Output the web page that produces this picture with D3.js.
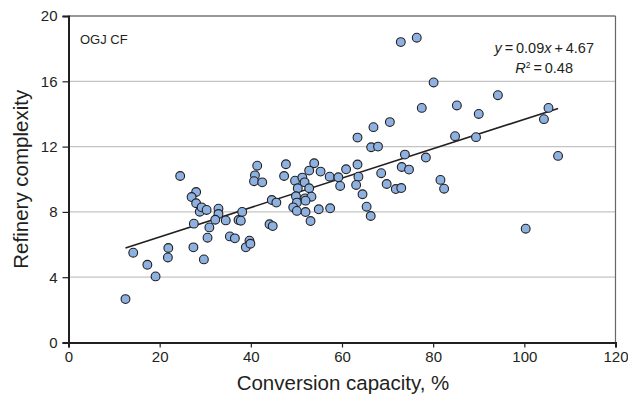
<!DOCTYPE html>
<html><head><meta charset="utf-8">
<script src="https://cdn.jsdelivr.net/npm/d3@7"></script>
<style>body{margin:0;background:#fff}svg{display:block}text{font-family:"Liberation Sans",Arial,sans-serif;fill:#231f20}</style>
</head><body><svg id="c" width="628" height="397"></svg>
<script>
const conversion = [12.5,14.2,17.3,19.1,21.9,21.8,24.5,28.0,27.0,28.0,28.8,29.2,30.3,27.5,30.9,32.9,32.9,32.2,34.5,30.5,27.4,29.7,35.4,36.5,39.7,38.9,37.3,38.1,37.8,44.1,44.8,41.4,40.9,40.7,42.5,44.6,45.6,63.4,66.9,66.4,67.9,47.7,47.3,53.9,52.8,55.3,49.7,51.3,51.8,50.3,52.8,57.3,59.2,59.6,60.9,63.4,63.6,63.1,64.5,65.4,66.3,68.6,69.8,71.8,73.0,49.9,51.9,53.3,50.1,52.0,49.3,50.1,52.0,53.1,54.9,57.4,81.6,82.4,77.5,85.2,90.0,70.5,84.8,89.4,73.8,78.4,73.1,74.7,94.2,105.3,104.3,107.4,72.9,76.4,80.1,100.3,39.9];
const complexity = [2.66,5.5,4.76,4.05,5.79,5.21,10.2,9.22,8.91,8.53,8.01,8.28,8.12,7.28,7.05,8.2,7.87,7.52,7.48,6.42,5.83,5.09,6.5,6.38,6.24,5.83,7.5,8.0,7.46,7.24,7.13,10.83,10.24,9.88,9.81,8.73,8.57,12.55,13.19,11.96,12.0,10.92,10.2,10.98,10.53,10.47,9.91,10.1,9.81,9.45,9.45,10.16,10.12,9.59,10.61,10.9,10.16,9.65,9.08,8.32,7.75,10.37,9.71,9.4,9.46,8.96,8.83,8.93,8.57,8.69,8.28,8.06,7.99,7.44,8.16,8.22,9.96,9.42,14.37,14.52,14.0,13.5,12.64,12.58,11.51,11.33,10.75,10.59,15.15,14.37,13.68,11.43,18.4,18.67,15.93,6.97,6.05];
const xTicks = [0,20,40,60,80,100,120];
const yTicks = [0,4,8,12,16,20];
const slope = 0.09, intercept = 4.67, r2 = 0.48;
const panelLabel = "OGJ CF";
const xTitle = "Conversion capacity, %";
const yTitle = "Refinery complexity";

const svg = d3.select("#c");
const L = 68.5, R = 615.5, T = 16, B = 342.5;
const x = d3.scaleLinear().domain([0,120]).range([L,R]);
const y = d3.scaleLinear().domain([0,20]).range([B,T]);

// gridlines
svg.append("g").selectAll("line").data(yTicks.filter(d=>d>0&&d<20)).join("line")
  .attr("x1",L).attr("x2",R).attr("y1",d=>y(d)).attr("y2",d=>y(d))
  .attr("stroke","#c4c4c4").attr("stroke-width",1.2);
// top & right border
svg.append("line").attr("x1",L).attr("x2",R).attr("y1",T).attr("y2",T).attr("stroke","#3a3030").attr("stroke-width",1.2);
svg.append("line").attr("x1",R).attr("x2",R).attr("y1",T).attr("y2",B).attr("stroke","#6a6464").attr("stroke-width",1.2);

// axes
const xa = svg.append("g").attr("transform",`translate(0,${B})`)
  .call(d3.axisBottom(x).tickValues(xTicks).tickSize(5).tickPadding(4));
const ya = svg.append("g").attr("transform",`translate(${L},0)`)
  .call(d3.axisLeft(y).tickValues(yTicks).tickSize(6).tickPadding(5));
[xa,ya].forEach(a=>{
  a.select(".domain").attr("stroke","#231f20").attr("stroke-width",2);
  a.selectAll(".tick line").attr("stroke","#231f20").attr("stroke-width",1.2);
  a.selectAll("text").attr("font-size",15).attr("fill","#231f20").style("font-family","Liberation Sans, Arial, sans-serif");
});

// trend line
const xmin = d3.min(conversion), xmax = d3.max(conversion);
svg.append("line").attr("x1",x(xmin)).attr("y1",y(slope*xmin+intercept))
  .attr("x2",x(xmax)).attr("y2",y(slope*xmax+intercept))
  .attr("stroke","#231f20").attr("stroke-width",1.6);

// points
svg.append("g").selectAll("circle").data(conversion.map((c,i)=>[c,complexity[i]])).join("circle")
  .attr("cx",d=>x(d[0])).attr("cy",d=>y(d[1])).attr("r",4.4)
  .attr("fill","#8db2e2").attr("stroke","#231f20").attr("stroke-width",1.1);

// labels
svg.append("text").attr("x",80).attr("y",44).attr("font-size",13).text(panelLabel);
const eq = svg.append("text").attr("x",594).attr("y",53).attr("font-size",14.5).attr("text-anchor","end");
eq.append("tspan").attr("font-style","italic").text("y");
eq.append("tspan").text("\u2009=\u20090.09");
eq.append("tspan").attr("font-style","italic").text("x");
eq.append("tspan").text("\u2009+\u2009" + intercept.toFixed(2));
const rq = svg.append("text").attr("x",573).attr("y",73).attr("font-size",14.5).attr("text-anchor","end");
rq.append("tspan").attr("font-style","italic").text("R");
rq.append("tspan").attr("font-size",8.5).attr("dy",-5).text("2");
rq.append("tspan").attr("dy",5).text("\u2009=\u2009" + r2.toFixed(2));

svg.append("text").attr("x",(L+R)/2 + 1).attr("y",390).attr("text-anchor","middle").attr("font-size",20.5).text(xTitle);
svg.append("text").attr("transform",`translate(28,${(T+B)/2}) rotate(-90)`).attr("text-anchor","middle").attr("font-size",20.5).text(yTitle);
</script></body></html>
